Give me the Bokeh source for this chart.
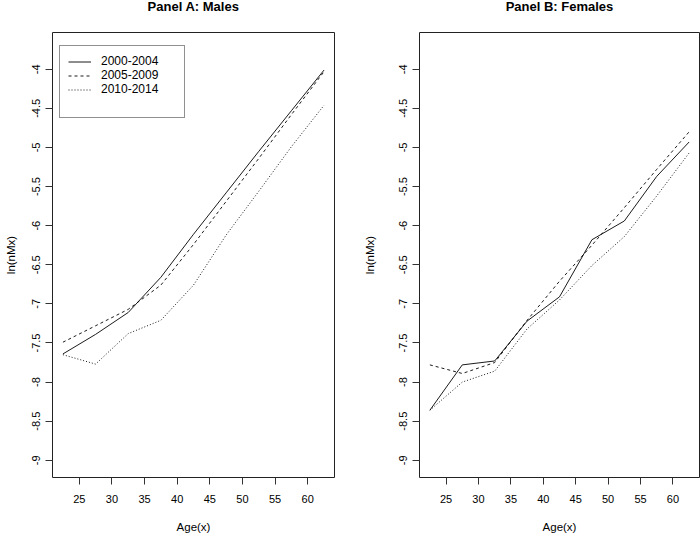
from bokeh.plotting import figure
from bokeh.layouts import row, column
from bokeh.models import Legend, LegendItem, FixedTicker, Range1d
from bokeh.core.properties import value
from bokeh.embed import file_html
from bokeh.resources import INLINE

# Mid-points of the five-year age groups 20-24 ... 60-64
age = [22.5, 27.5, 32.5, 37.5, 42.5, 47.5, 52.5, 57.5, 62.5]

periods = ["2000-2004", "2005-2009", "2010-2014"]
panel_titles = ["Panel A: Males", "Panel B: Females"]

# ln(nMx) by age, males
male_2000 = [-7.64, -7.39, -7.11, -6.66, -6.11, -5.58, -5.05, -4.53, -4.01]
male_2005 = [-7.49, -7.28, -7.07, -6.76, -6.24, -5.69, -5.14, -4.58, -4.03]
male_2010 = [-7.65, -7.77, -7.38, -7.21, -6.76, -6.12, -5.56, -4.99, -4.46]

# ln(nMx) by age, females
female_2000 = [-8.36, -7.78, -7.73, -7.22, -6.91, -6.18, -5.94, -5.37, -4.93]
female_2005 = [-7.78, -7.89, -7.75, -7.21, -6.71, -6.25, -5.77, -5.28, -4.80]
female_2010 = [-8.36, -8.00, -7.86, -7.32, -6.95, -6.51, -6.14, -5.62, -5.07]

x_ticks = [25, 30, 35, 40, 45, 50, 55, 60]
x_labels = ["25", "30", "35", "40", "45", "50", "55", "60"]
y_ticks = [-9, -8.5, -8, -7.5, -7, -6.5, -6, -5.5, -5, -4.5, -4]
y_labels = ["-9", "-8.5", "-8", "-7.5", "-7", "-6.5", "-6", "-5.5", "-5", "-4.5", "-4"]

FONT = "Liberation Sans"
DASHES = ["solid", "3 3", "1 2"]
WIDTH = 350
HEAD_H = 28            # strip holding the two panel headings
PANEL_H = 535 - HEAD_H
TOP, BOTTOM = 4, 54
BORDERS = [(52, 16), (69, 1)]
YLABEL_GAP = [13, 21]


def make_panel(series, border_left, border_right, ylabel_gap, with_legend):
    p = figure(width=WIDTH, height=PANEL_H,
               x_range=Range1d(20.9, 64.1), y_range=Range1d(-9.22, -3.53),
               output_backend="svg", toolbar_location=None,
               min_border_left=border_left, min_border_right=border_right,
               min_border_top=TOP, min_border_bottom=BOTTOM)
    p.background_fill_color = "white"
    p.border_fill_color = "white"
    p.outline_line_color = "#222222"
    p.outline_line_width = 1
    p.xgrid.visible = False
    p.ygrid.visible = False

    for ax, ticks, labels, name in ((p.xaxis, x_ticks, x_labels, "Age(x)"),
                                    (p.yaxis, y_ticks, y_labels, "ln(nMx)")):
        ax.ticker = FixedTicker(ticks=ticks)
        ax.major_label_overrides = {t: l for t, l in zip(ticks, labels)}
        ax.axis_line_color = None
        ax.major_tick_out = 7
        ax.major_tick_in = 0
        ax.major_tick_line_color = "#333333"
        ax.minor_tick_line_color = None
        ax.major_label_text_font = FONT
        ax.major_label_text_font_size = "11px"
        ax.major_label_text_color = "black"
        ax.axis_label = name
        ax.axis_label_text_font = FONT
        ax.axis_label_text_font_size = "11.5px"
        ax.axis_label_text_font_style = "normal"
        ax.axis_label_text_color = "black"

    p.xaxis.major_label_standoff = 10
    p.xaxis.axis_label_standoff = 15
    p.xaxis.axis_label_text_line_height = 1.0
    p.yaxis.major_label_orientation = "vertical"
    p.yaxis.major_label_standoff = 5
    p.yaxis.axis_label_standoff = ylabel_gap
    p.yaxis.axis_label_text_line_height = 0.5

    renderers = []
    for values, dash in zip(series, DASHES):
        r = p.line(age, values, line_color="black", line_width=0.9, line_dash=dash)
        renderers.append(r)

    if with_legend:
        spacer = p.line([], [], line_alpha=0)
        items = [LegendItem(label=lab, renderers=[r]) for lab, r in zip(periods, renderers)]
        items.append(LegendItem(label=" ", renderers=[spacer]))
        legend = Legend(items=items, location=(7, 359))
        legend.border_line_color = "#222222"
        legend.border_line_width = 1
        legend.background_fill_color = "white"
        legend.background_fill_alpha = 1
        legend.label_text_font = FONT
        legend.label_text_font_size = "12px"
        legend.label_text_line_height = 1.1
        legend.label_text_color = "black"
        legend.glyph_width = 23
        legend.glyph_height = 13
        legend.label_height = 13
        legend.label_width = 75
        legend.label_standoff = 10
        legend.spacing = 0
        legend.padding = 8
        legend.margin = 0
        p.add_layout(legend, "center")
    return p


# Heading strip: each title centred over its panel's plotting box
head = figure(width=2 * WIDTH, height=HEAD_H, x_range=Range1d(0, 2 * WIDTH),
              y_range=Range1d(0, HEAD_H), output_backend="svg", toolbar_location=None,
              min_border=0)
head.axis.visible = False
head.grid.visible = False
head.outline_line_color = None
head.background_fill_color = "white"
head.border_fill_color = "white"
centres = [i * WIDTH + bl + (WIDTH - bl - br) / 2 for i, (bl, br) in enumerate(BORDERS)]
head.text(x=centres, y=[HEAD_H - 6] * 2, text=panel_titles,
          text_align="center", text_baseline="alphabetic",
          text_font=value(FONT), text_font_size="13px", text_font_style="bold",
          text_color="black")

pa = make_panel([male_2000, male_2005, male_2010], *BORDERS[0], YLABEL_GAP[0], True)
pb = make_panel([female_2000, female_2005, female_2010], *BORDERS[1], YLABEL_GAP[1], False)

layout = column(head, row(pa, pb, spacing=0), spacing=0)
open("out.html", "w").write(file_html(layout, INLINE))
